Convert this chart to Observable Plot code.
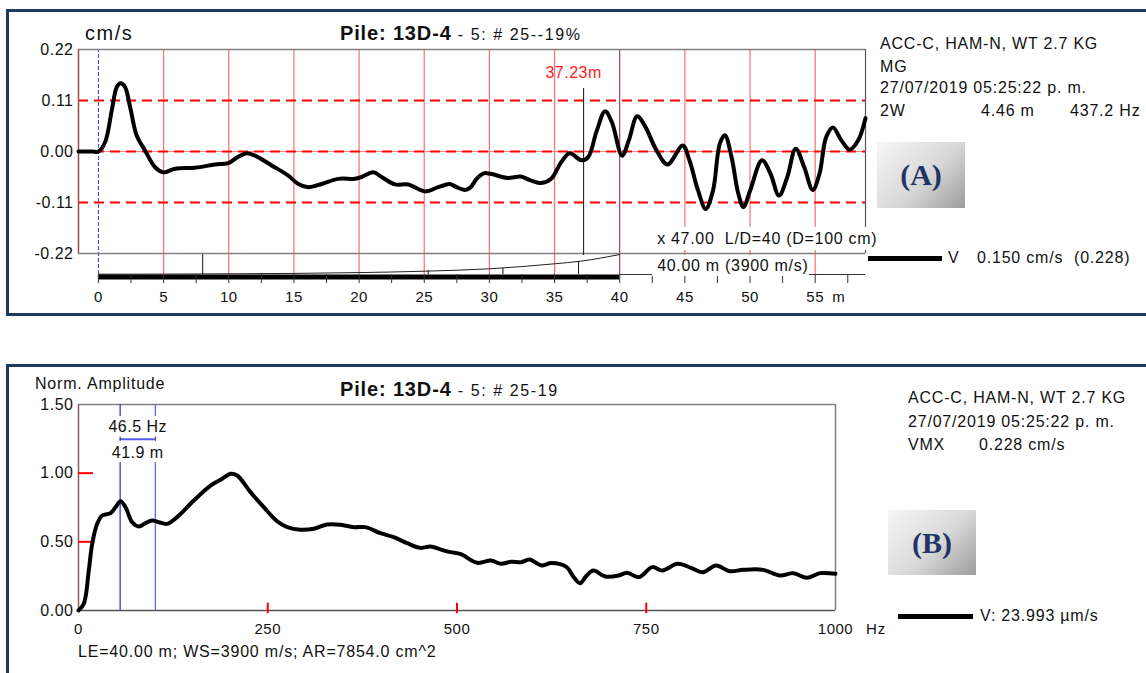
<!DOCTYPE html>
<html><head><meta charset="utf-8">
<script src="https://cdn.jsdelivr.net/npm/d3@7"></script>
<script src="https://cdn.jsdelivr.net/npm/@observablehq/plot@0.6"></script>
<style>
body{margin:0;background:#fff;width:1146px;height:673px;overflow:hidden;position:relative;font-family:"Liberation Sans",Arial,sans-serif;color:#111;}
.t{position:absolute;white-space:pre;letter-spacing:0.8px;}
.frame{position:absolute;border:3px solid #1f3a60;border-right:none;box-sizing:border-box;}
.badge{position:absolute;background:linear-gradient(135deg,#f6f6f6 0%,#d8d8d8 55%,#9c9c9c 100%);display:flex;align-items:center;justify-content:center;font-family:"Liberation Serif","Times New Roman",serif;font-weight:bold;font-size:30px;color:#1f3566;}
.plotwrap{position:absolute;left:0;}
.lg{position:absolute;height:5px;background:#000;}
</style></head><body>
<script>
// ---------------- Panel A data (velocity vs depth) ----------------
const velDepth = [-1.53,-0.5,0,0.51,1.02,1.41,1.71,2.04,2.43,2.94,3.58,4.35,4.98,5.88,7.41,8.95,9.97,10.74,11.37,12.01,13.29,14.57,15.34,16.1,17.13,18.4,19.69,20.2,21.09,21.73,22.75,23.77,25.05,26.07,26.97,27.48,28.12,28.53,29.05,29.56,30.08,31.37,32.41,33.06,33.97,34.74,35.51,36.16,37.07,37.58,38.24,38.88,39.4,40.18,40.7,41.34,41.99,42.76,43.67,44.83,45.35,46.01,46.6,47.16,47.68,48.07,48.58,49.1,49.49,50.01,50.92,51.57,52.22,52.86,53.5,54.16,54.81,55.33,55.84,56.36,57.01,57.66,58.3,58.86];
const velValue = [0,0,0,0.020,0.088,0.139,0.147,0.139,0.096,0.034,0.002,-0.034,-0.045,-0.037,-0.035,-0.028,-0.025,-0.011,-0.004,-0.009,-0.030,-0.052,-0.070,-0.077,-0.070,-0.059,-0.059,-0.055,-0.045,-0.055,-0.071,-0.071,-0.086,-0.077,-0.070,-0.077,-0.083,-0.078,-0.058,-0.047,-0.048,-0.057,-0.054,-0.061,-0.068,-0.059,-0.023,-0.004,-0.019,-0.012,0.045,0.087,0.063,-0.009,0.024,0.076,0.052,0.006,-0.028,0.013,-0.019,-0.084,-0.124,-0.084,0.017,0.035,-0.012,-0.091,-0.120,-0.084,-0.019,-0.048,-0.095,-0.055,0.006,-0.034,-0.083,-0.048,0.031,0.052,0.024,0.004,0.024,0.072];
const ampDepth = [0,5,10,15,20,25,30,35,37,40];
const ampValue = [-0.2646,-0.2644,-0.2638,-0.2629,-0.2612,-0.2582,-0.2530,-0.2422,-0.2366,-0.2222];
const markerDepth = [8,25.3,31.04,36.84];
const markerTop = [-0.2224,-0.2567,-0.2517,-0.2372];
const cursorDepth = [37.23];
const cursorSpan = [-0.2243, 0.1359];
const xDomainA = [-1.53, 58.86];
const yDomainA = [-0.26529, 0.22];
const yTicksA = [-0.22,-0.11,0,0.11,0.22];
const xTicksA = [0,2.5,5,7.5,10,12.5,15,17.5,20,22.5,25,27.5,30,32.5,35,37.5,40,42.5,45,47.5,50,52.5,55,57.5];
const gridA = [5,10,15,20,25,30,35,45,50,55];
const dashA = [0.11,0,-0.11];
const pileLength = 40;

// ---------------- Panel B data (spectrum) ----------------
const specHz = [0,7,13.6,18.1,24.7,31.3,42.3,48.9,55.5,62.1,70.9,79.7,88.5,97.3,106.1,117.2,130.3,152.3,174.4,189.8,200.8,209.6,227.2,244.8,262.4,275.7,293.3,310.8,328.5,346.1,363.7,379.1,398.9,416.5,434.2,451.8,465,478,491.5,505,527,544.8,558.1,571.5,584.8,595.9,611.4,624.7,644.8,653.6,662.5,671.3,680.2,695.8,713.6,724.7,740.2,758,771.2,791.3,809,824.6,842.3,860.1,877.8,904.4,926.6,944.3,962.1,979.8,1000];
const specAmp = [0,0.049,0.291,0.486,0.631,0.692,0.709,0.752,0.796,0.752,0.643,0.612,0.636,0.655,0.643,0.631,0.680,0.801,0.910,0.959,0.996,0.983,0.862,0.752,0.650,0.607,0.588,0.595,0.626,0.624,0.607,0.607,0.563,0.534,0.490,0.456,0.466,0.445,0.425,0.410,0.347,0.364,0.340,0.355,0.352,0.371,0.328,0.345,0.316,0.248,0.199,0.255,0.291,0.248,0.255,0.275,0.243,0.316,0.291,0.340,0.311,0.279,0.328,0.286,0.296,0.296,0.255,0.272,0.238,0.272,0.267];
const bandHz = [55, 101.5];
const bandGap = [1.0777, 1.4127];
const bandArrowY = 1.2474;
const yTicksB = [0,0.5,1,1.5];
const xTicksB = [0,250,500,750,1000];
const redTickYB = [0.5,1];
const redTickXB = [250,500,750];

const FONT = '"Liberation Sans", Arial, sans-serif';
const vel = velDepth.map((d,i)=>({x:d,y:velValue[i]}));
const amp = ampDepth.map((d,i)=>({x:d,y:ampValue[i]}));
const markers = markerDepth.map((d,i)=>({x:d,top:markerTop[i]}));
const spec = specHz.map((d,i)=>({x:d,y:specAmp[i]}));

// frames
function box(cls,l,t,w,h){const d=document.createElement('div');d.className=cls;Object.assign(d.style,{left:l+'px',top:t+'px',width:w+'px',height:h+'px'});document.body.appendChild(d);return d;}
box('frame',6,9,1160,307);
box('frame',6,364,1160,400);

// ---------------- Plot A ----------------
const plotA = Plot.plot({
  width: 900, height: 320,
  marginLeft: 78, marginTop: 49, marginRight: 35, marginBottom: 46,
  style: {background: "transparent", fontFamily: FONT, fontSize: "16px", color: "#111", letterSpacing: "0.5px"},
  x: {domain: xDomainA},
  y: {domain: yDomainA},
  marks: [
    Plot.ruleX(gridA, {y1: yDomainA[0], y2: 0.22, stroke: "#ff4a4a", strokeOpacity: 0.8, strokeWidth: 1.2}),
    Plot.ruleY([0], {stroke: "#ff8080", strokeWidth: 1}),
    Plot.ruleY(dashA, {stroke: "#ff0000", strokeWidth: 2, strokeDasharray: "10,6"}),
    Plot.ruleX([0], {y1: yDomainA[0], y2: 0.22, stroke: "#3a3aff", strokeWidth: 1, strokeDasharray: "4,2"}),
    Plot.ruleX([pileLength], {y1: yDomainA[0], y2: 0.22, stroke: "#8b1a50", strokeWidth: 1}),
    Plot.ruleY([0.22], {stroke: "#808080", strokeWidth: 1.5}),
    Plot.ruleY([-0.22], {stroke: "#808080", strokeWidth: 1.5}),
    Plot.ruleX([xDomainA[0]], {y1: -0.22, y2: 0.22, stroke: "#9a4a4a", strokeWidth: 1.5}),
    Plot.ruleX([xDomainA[1]], {y1: -0.22, y2: 0.22, stroke: "#555", strokeWidth: 1.2}),
    Plot.line(amp, {x: "x", y: "y", stroke: "#222", strokeWidth: 1, curve: "monotone-x"}),
    Plot.ruleX(markers, {x: "x", y1: "top", y2: yDomainA[0], stroke: "#111", strokeWidth: 1}),
    Plot.ruleX(cursorDepth, {y1: cursorSpan[0], y2: cursorSpan[1], stroke: "#111", strokeWidth: 1}),
    Plot.text(cursorDepth, {x: d=>d, text: d=>d.toFixed(2)+"m", frameAnchor: "top", lineAnchor: "middle", dy: 23.7, dx: -10, fill: "#ff1a1a", fontSize: 16}),
    Plot.ruleY([yDomainA[0]], {x1: 0, x2: pileLength, dy: 2.5, stroke: "#000", strokeWidth: 5}),
    Plot.ruleY([yDomainA[0]], {x1: pileLength, x2: xDomainA[1], stroke: "#333", strokeWidth: 1}),
    Plot.axisX(xTicksA, {tickSize: 9, tickPadding: 8, fontSize: 15, stroke: "#333", tickFormat: d => d % 5 === 0 ? String(d) : "", label: null}),
    Plot.text(["m"], {x: [56.8], frameAnchor: "bottom", lineAnchor: "middle", dy: 22.5, fontSize: 15, text: d=>d}),
    Plot.axisY(yTicksA, {tickSize: 0, tickPadding: 5, fontSize: 16, tickFormat: d => d.toFixed(2), label: null}),
    Plot.line(vel, {x: "x", y: "y", stroke: "#000", strokeWidth: 4, curve: "catmull-rom", strokeLinejoin: "round", strokeLinecap: "round"})
  ]
});
const wa = document.createElement('div'); wa.className='plotwrap'; wa.style.top='0px'; wa.appendChild(plotA); document.body.appendChild(wa);

// ---------------- Plot B ----------------
const plotB = Plot.plot({
  width: 900, height: 290,
  marginLeft: 78, marginTop: 24, marginRight: 65, marginBottom: 60,
  style: {background: "transparent", fontFamily: FONT, fontSize: "16px", color: "#111", letterSpacing: "0.5px"},
  x: {domain: [0, 1000]},
  y: {domain: [0, 1.5]},
  marks: [
    Plot.ruleY([1.5], {stroke: "#808080", strokeWidth: 1.5}),
    Plot.ruleX([1000], {stroke: "#808080", strokeWidth: 1.5}),
    Plot.ruleY([0], {stroke: "#555", strokeWidth: 1.5}),
    Plot.ruleX([0], {stroke: "#8a5a5a", strokeWidth: 1.5}),
    Plot.ruleY(redTickYB, {x1: 0, x2: 19.8, stroke: "#ff0000", strokeWidth: 2}),
    Plot.ruleX(redTickXB, {y1: -0.024, y2: 0.053, stroke: "#ff0000", strokeWidth: 2}),
    Plot.ruleX(bandHz, {y1: 0, y2: bandGap[0], stroke: (d,i)=> i===0 ? "#2a2ad0" : "#5a5aff", strokeWidth: 1.2}),
    Plot.ruleX(bandHz, {y1: bandGap[1], y2: 1.5, stroke: (d,i)=> i===0 ? "#2a2ad0" : "#5a5aff", strokeWidth: 1.2}),
    Plot.ruleY([bandArrowY], {x1: bandHz[0], x2: bandHz[1], stroke: "#5a5aee", strokeWidth: 2}),
    Plot.ruleX(bandHz, {y1: bandArrowY - 0.016, y2: bandArrowY + 0.016, stroke: "#333", strokeWidth: 1}),
    Plot.text([bandHz[1]-bandHz[0]], {x: (bandHz[0]+bandHz[1])/2, frameAnchor: "top", lineAnchor: "middle", dy: 22.5, text: d => d.toFixed(1)+" Hz", fontSize: 16}),
    Plot.text([3900/2/(bandHz[1]-bandHz[0])], {x: (bandHz[0]+bandHz[1])/2, frameAnchor: "top", lineAnchor: "middle", dy: 48.5, text: d => d.toFixed(1)+" m", fontSize: 16}),
    Plot.axisX(xTicksB, {tickSize: 0, tickPadding: 13, fontSize: 15, tickFormat: d=>String(d), label: null}),
    Plot.axisY(yTicksB, {tickSize: 0, tickPadding: 5, fontSize: 16, tickFormat: d => d.toFixed(2), label: null}),
    Plot.line(spec, {x: "x", y: "y", stroke: "#000", strokeWidth: 4, curve: "catmull-rom", strokeLinejoin: "round", strokeLinecap: "round"})
  ]
});
const wb = document.createElement('div'); wb.className='plotwrap'; wb.style.top='380px'; wb.appendChild(plotB); document.body.appendChild(wb);

// ---------------- Text ----------------
function T(x, cy, s, o={}){
  const d=document.createElement('div'); d.className='t';
  const fs=o.fs||16, lh=o.lh||22;
  Object.assign(d.style,{left:x+'px',top:(cy-lh/2)+'px',lineHeight:lh+'px',fontSize:fs+'px'});
  if(o.bold) d.style.fontWeight='bold';
  if(o.color) d.style.color=o.color;
  if(o.ls!==undefined) d.style.letterSpacing=o.ls+'px';
  if(o.bg){d.style.background=o.bg;}
  if(o.w){d.style.width=o.w+'px';}
  d.innerHTML=s; document.body.appendChild(d); return d;
}
const TB = '<span style="font-weight:bold;font-size:20px;letter-spacing:0.85px">Pile: 13D-4</span>';
// Panel A
T(85, 33, "cm/s", {fs:20, ls:1.5});
T(340, 33, TB + ' - 5: # 25--19%', {fs:16, lh:26, ls:1.6});
T(880, 44, "ACC-C, HAM-N, WT 2.7 KG");
T(880, 67, "MG");
T(880, 88, "27/07/2019 05:25:22 p. m.");
T(880, 111, "2W"); T(981, 111, "4.46 m"); T(1070, 111, "437.2 Hz");
const bA = box('badge', 877, 142, 88, 66); bA.textContent = "(A)";
T(652, 238.8, " x 47.00  L/D=40 (D=100 cm)", {bg:"#fff", lh:23, w:226, ls:0.7});
T(652, 265, " 40.00 m (3900 m/s)", {bg:"#fff", lh:21, w:157, ls:0.7});
box('lg', 868, 256, 74, 5);
T(948, 258, "V"); T(977, 258, "0.150 cm/s"); T(1074, 258, "(0.228)");
// Panel B
T(35, 383.5, "Norm. Amplitude");
T(340, 389, TB + ' - 5: # 25-19', {fs:16, lh:26, ls:1.6});
T(908, 398, "ACC-C, HAM-N, WT 2.7 KG");
T(908, 422, "27/07/2019 05:25:22 p. m.");
T(908, 445, "VMX"); T(979, 445, "0.228 cm/s");
const bB = box('badge', 888, 510, 88, 65); bB.textContent = "(B)";
box('lg', 898, 613.5, 75, 5);
T(980, 616, "V: 23.993 µm/s");
T(866, 629, "Hz", {fs:15});
T(78, 651.7, "LE=40.00 m; WS=3900 m/s; AR=7854.0 cm^2");
</script>
</body></html>
